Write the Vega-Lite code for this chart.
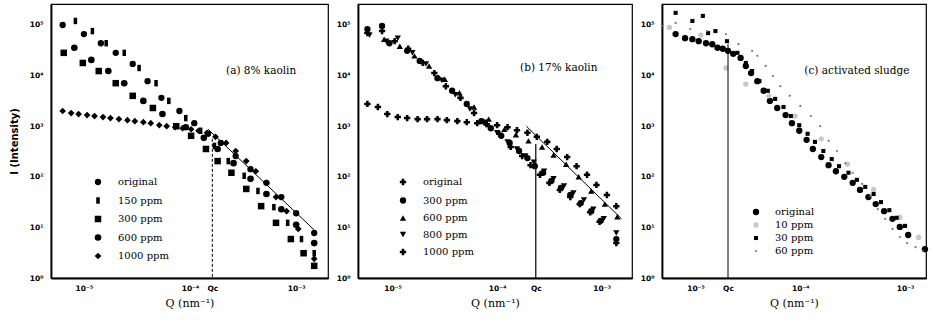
{
  "$schema": "https://vega.github.io/schema/vega-lite/v6.json",
  "background": "white",
  "padding": {"left": 8, "top": 3, "right": 0, "bottom": 0},
  "bounds": "flush",
  "spacing": 30,
  "config": {
    "view": {"stroke": "black", "strokeWidth": 1.2},
    "axis": {
      "grid": false, "ticks": false, "domainColor": "black", "domainWidth": 1.8,
      "labelFont": "DejaVu Sans", "labelFontWeight": "bold", "labelFontSize": 7.5, "labelColor": "black",
      "titleFont": "DejaVu Serif", "titleFontWeight": "normal", "titleFontSize": 11, "titleColor": "black",
      "labelOverlap": false, "labelFlush": false
    },
    "axisX": {"labelPadding": 6, "titlePadding": 6},
    "axisY": {"labelPadding": 8}
  },
  "datasets": {
    "kaolin8": [
      {"series":"original","logQ":-5.20,"logI":5.00},{"series":"original","logQ":-5.00,"logI":4.82},{"series":"original","logQ":-4.84,"logI":4.64},{"series":"original","logQ":-4.70,"logI":4.45},{"series":"original","logQ":-4.54,"logI":4.23},{"series":"original","logQ":-4.40,"logI":3.89},{"series":"original","logQ":-4.27,"logI":3.56},{"series":"original","logQ":-4.10,"logI":3.30},{"series":"original","logQ":-3.96,"logI":3.06},{"series":"original","logQ":-3.83,"logI":2.85},{"series":"original","logQ":-3.71,"logI":2.67},{"series":"original","logQ":-3.57,"logI":2.41},{"series":"original","logQ":-3.43,"logI":2.15},{"series":"original","logQ":-3.28,"logI":1.88},{"series":"original","logQ":-3.14,"logI":1.60},{"series":"original","logQ":-3.00,"logI":1.28},{"series":"original","logQ":-2.83,"logI":0.89},
      {"series":"150 ppm","logQ":-5.08,"logI":5.08},{"series":"150 ppm","logQ":-4.92,"logI":4.88},{"series":"150 ppm","logQ":-4.79,"logI":4.64},{"series":"150 ppm","logQ":-4.62,"logI":4.45},{"series":"150 ppm","logQ":-4.48,"logI":4.15},{"series":"150 ppm","logQ":-4.32,"logI":3.85},{"series":"150 ppm","logQ":-4.20,"logI":3.50},{"series":"150 ppm","logQ":-4.04,"logI":3.16},{"series":"150 ppm","logQ":-3.90,"logI":2.91},{"series":"150 ppm","logQ":-3.77,"logI":2.61},{"series":"150 ppm","logQ":-3.64,"logI":2.31},{"series":"150 ppm","logQ":-3.49,"logI":2.02},{"series":"150 ppm","logQ":-3.36,"logI":1.72},{"series":"150 ppm","logQ":-3.21,"logI":1.40},{"series":"150 ppm","logQ":-3.08,"logI":1.09},{"series":"150 ppm","logQ":-2.95,"logI":0.77},{"series":"150 ppm","logQ":-2.83,"logI":0.49},
      {"series":"300 ppm","logQ":-5.19,"logI":4.45},{"series":"300 ppm","logQ":-5.01,"logI":4.25},{"series":"300 ppm","logQ":-4.86,"logI":4.09},{"series":"300 ppm","logQ":-4.70,"logI":3.85},{"series":"300 ppm","logQ":-4.54,"logI":3.60},{"series":"300 ppm","logQ":-4.35,"logI":3.36},{"series":"300 ppm","logQ":-4.13,"logI":3.00},{"series":"300 ppm","logQ":-3.99,"logI":2.81},{"series":"300 ppm","logQ":-3.85,"logI":2.55},{"series":"300 ppm","logQ":-3.74,"logI":2.31},{"series":"300 ppm","logQ":-3.61,"logI":2.08},{"series":"300 ppm","logQ":-3.47,"logI":1.76},{"series":"300 ppm","logQ":-3.33,"logI":1.42},{"series":"300 ppm","logQ":-3.19,"logI":1.09},{"series":"300 ppm","logQ":-3.05,"logI":0.77},{"series":"300 ppm","logQ":-2.93,"logI":0.49},{"series":"300 ppm","logQ":-2.83,"logI":0.24},
      {"series":"600 ppm","logQ":-5.09,"logI":4.55},{"series":"600 ppm","logQ":-4.93,"logI":4.31},{"series":"600 ppm","logQ":-4.77,"logI":4.09},{"series":"600 ppm","logQ":-4.62,"logI":3.85},{"series":"600 ppm","logQ":-4.44,"logI":3.50},{"series":"600 ppm","logQ":-4.26,"logI":3.24},{"series":"600 ppm","logQ":-4.04,"logI":2.98},{"series":"600 ppm","logQ":-3.87,"logI":2.77},{"series":"600 ppm","logQ":-3.74,"logI":2.55},{"series":"600 ppm","logQ":-3.59,"logI":2.27},{"series":"600 ppm","logQ":-3.43,"logI":1.96},{"series":"600 ppm","logQ":-3.28,"logI":1.66},{"series":"600 ppm","logQ":-3.14,"logI":1.36},{"series":"600 ppm","logQ":-3.00,"logI":1.05},{"series":"600 ppm","logQ":-2.83,"logI":0.69},
      {"series":"1000 ppm","logQ":-5.20,"logI":3.30},{"series":"1000 ppm","logQ":-5.12,"logI":3.26},{"series":"1000 ppm","logQ":-5.05,"logI":3.24},{"series":"1000 ppm","logQ":-4.97,"logI":3.22},{"series":"1000 ppm","logQ":-4.90,"logI":3.20},{"series":"1000 ppm","logQ":-4.82,"logI":3.18},{"series":"1000 ppm","logQ":-4.75,"logI":3.16},{"series":"1000 ppm","logQ":-4.67,"logI":3.14},{"series":"1000 ppm","logQ":-4.59,"logI":3.12},{"series":"1000 ppm","logQ":-4.52,"logI":3.10},{"series":"1000 ppm","logQ":-4.44,"logI":3.08},{"series":"1000 ppm","logQ":-4.37,"logI":3.06},{"series":"1000 ppm","logQ":-4.29,"logI":3.02},{"series":"1000 ppm","logQ":-4.22,"logI":3.00},{"series":"1000 ppm","logQ":-4.14,"logI":2.98},{"series":"1000 ppm","logQ":-4.07,"logI":2.96},{"series":"1000 ppm","logQ":-3.99,"logI":2.94},{"series":"1000 ppm","logQ":-3.92,"logI":2.91},{"series":"1000 ppm","logQ":-3.84,"logI":2.87},{"series":"1000 ppm","logQ":-3.76,"logI":2.79},{"series":"1000 ppm","logQ":-3.66,"logI":2.67},{"series":"1000 ppm","logQ":-3.57,"logI":2.51},{"series":"1000 ppm","logQ":-3.47,"logI":2.31},{"series":"1000 ppm","logQ":-3.38,"logI":2.11},{"series":"1000 ppm","logQ":-3.28,"logI":1.88},{"series":"1000 ppm","logQ":-3.19,"logI":1.60},{"series":"1000 ppm","logQ":-3.09,"logI":1.32},{"series":"1000 ppm","logQ":-2.98,"logI":0.97},{"series":"1000 ppm","logQ":-2.83,"logI":0.38}
    ],
    "kaolin17": [
      {"series":"original","logQ":-5.24,"logI":3.44},{"series":"original","logQ":-5.14,"logI":3.38},{"series":"original","logQ":-5.05,"logI":3.24},{"series":"original","logQ":-4.95,"logI":3.18},{"series":"original","logQ":-4.86,"logI":3.16},{"series":"original","logQ":-4.76,"logI":3.14},{"series":"original","logQ":-4.67,"logI":3.14},{"series":"original","logQ":-4.57,"logI":3.14},{"series":"original","logQ":-4.48,"logI":3.12},{"series":"original","logQ":-4.38,"logI":3.10},{"series":"original","logQ":-4.29,"logI":3.08},{"series":"original","logQ":-4.19,"logI":3.06},{"series":"original","logQ":-4.10,"logI":3.04},{"series":"original","logQ":-4.00,"logI":3.02},{"series":"original","logQ":-3.90,"logI":2.98},{"series":"original","logQ":-3.81,"logI":2.92},{"series":"original","logQ":-3.71,"logI":2.87},{"series":"original","logQ":-3.62,"logI":2.79},{"series":"original","logQ":-3.52,"logI":2.69},{"series":"original","logQ":-3.43,"logI":2.55},{"series":"original","logQ":-3.33,"logI":2.39},{"series":"original","logQ":-3.24,"logI":2.21},{"series":"original","logQ":-3.14,"logI":2.04},{"series":"original","logQ":-3.05,"logI":1.84},{"series":"original","logQ":-2.95,"logI":1.64},{"series":"original","logQ":-2.86,"logI":1.42},
      {"series":"300 ppm","logQ":-5.24,"logI":4.92},{"series":"300 ppm","logQ":-5.10,"logI":4.98},{"series":"300 ppm","logQ":-5.03,"logI":4.64},{"series":"300 ppm","logQ":-4.86,"logI":4.49},{"series":"300 ppm","logQ":-4.74,"logI":4.29},{"series":"300 ppm","logQ":-4.57,"logI":3.95},{"series":"300 ppm","logQ":-4.43,"logI":3.70},{"series":"300 ppm","logQ":-4.29,"logI":3.44},{"series":"300 ppm","logQ":-4.15,"logI":3.10},{"series":"300 ppm","logQ":-4.06,"logI":2.96},{"series":"300 ppm","logQ":-3.96,"logI":2.81},{"series":"300 ppm","logQ":-3.88,"logI":2.67},{"series":"300 ppm","logQ":-3.79,"logI":2.51},{"series":"300 ppm","logQ":-3.71,"logI":2.37},{"series":"300 ppm","logQ":-3.64,"logI":2.21},{"series":"300 ppm","logQ":-3.56,"logI":2.08},{"series":"300 ppm","logQ":-3.48,"logI":1.92},{"series":"300 ppm","logQ":-3.39,"logI":1.78},{"series":"300 ppm","logQ":-3.30,"logI":1.64},{"series":"300 ppm","logQ":-3.20,"logI":1.48},{"series":"300 ppm","logQ":-3.10,"logI":1.32},{"series":"300 ppm","logQ":-3.01,"logI":1.13},{"series":"300 ppm","logQ":-2.86,"logI":0.77},
      {"series":"600 ppm","logQ":-5.24,"logI":4.88},{"series":"600 ppm","logQ":-5.08,"logI":4.72},{"series":"600 ppm","logQ":-4.93,"logI":4.58},{"series":"600 ppm","logQ":-4.79,"logI":4.39},{"series":"600 ppm","logQ":-4.65,"logI":4.19},{"series":"600 ppm","logQ":-4.50,"logI":3.93},{"series":"600 ppm","logQ":-4.36,"logI":3.66},{"series":"600 ppm","logQ":-4.22,"logI":3.38},{"series":"600 ppm","logQ":-4.08,"logI":3.14},{"series":"600 ppm","logQ":-3.93,"logI":2.94},{"series":"600 ppm","logQ":-3.82,"logI":2.83},{"series":"600 ppm","logQ":-3.70,"logI":2.71},{"series":"600 ppm","logQ":-3.57,"logI":2.59},{"series":"600 ppm","logQ":-3.46,"logI":2.43},{"series":"600 ppm","logQ":-3.34,"logI":2.25},{"series":"600 ppm","logQ":-3.22,"logI":2.00},{"series":"600 ppm","logQ":-3.10,"logI":1.72},{"series":"600 ppm","logQ":-2.97,"logI":1.46},{"series":"600 ppm","logQ":-2.85,"logI":1.21},
      {"series":"800 ppm","logQ":-5.22,"logI":4.80},{"series":"800 ppm","logQ":-5.06,"logI":4.68},{"series":"800 ppm","logQ":-4.95,"logI":4.74},{"series":"800 ppm","logQ":-4.81,"logI":4.45},{"series":"800 ppm","logQ":-4.68,"logI":4.23},{"series":"800 ppm","logQ":-4.53,"logI":3.91},{"series":"800 ppm","logQ":-4.40,"logI":3.62},{"series":"800 ppm","logQ":-4.26,"logI":3.34},{"series":"800 ppm","logQ":-4.12,"logI":3.08},{"series":"800 ppm","logQ":-4.00,"logI":2.87},{"series":"800 ppm","logQ":-3.90,"logI":2.69},{"series":"800 ppm","logQ":-3.81,"logI":2.55},{"series":"800 ppm","logQ":-3.73,"logI":2.41},{"series":"800 ppm","logQ":-3.65,"logI":2.29},{"series":"800 ppm","logQ":-3.55,"logI":2.11},{"series":"800 ppm","logQ":-3.46,"logI":1.96},{"series":"800 ppm","logQ":-3.36,"logI":1.82},{"series":"800 ppm","logQ":-3.27,"logI":1.68},{"series":"800 ppm","logQ":-3.17,"logI":1.54},{"series":"800 ppm","logQ":-3.08,"logI":1.36},{"series":"800 ppm","logQ":-2.98,"logI":1.17},{"series":"800 ppm","logQ":-2.86,"logI":0.89},
      {"series":"1000 ppm","logQ":-5.24,"logI":4.84},{"series":"1000 ppm","logQ":-5.10,"logI":4.88},{"series":"1000 ppm","logQ":-4.98,"logI":4.68},{"series":"1000 ppm","logQ":-4.85,"logI":4.53},{"series":"1000 ppm","logQ":-4.71,"logI":4.25},{"series":"1000 ppm","logQ":-4.60,"logI":4.05},{"series":"1000 ppm","logQ":-4.49,"logI":3.79},{"series":"1000 ppm","logQ":-4.35,"logI":3.56},{"series":"1000 ppm","logQ":-4.22,"logI":3.26},{"series":"1000 ppm","logQ":-4.10,"logI":3.04},{"series":"1000 ppm","logQ":-3.98,"logI":2.85},{"series":"1000 ppm","logQ":-3.87,"logI":2.59},{"series":"1000 ppm","logQ":-3.76,"logI":2.41},{"series":"1000 ppm","logQ":-3.68,"logI":2.23},{"series":"1000 ppm","logQ":-3.59,"logI":2.04},{"series":"1000 ppm","logQ":-3.50,"logI":1.88},{"series":"1000 ppm","logQ":-3.40,"logI":1.74},{"series":"1000 ppm","logQ":-3.30,"logI":1.60},{"series":"1000 ppm","logQ":-3.21,"logI":1.46},{"series":"1000 ppm","logQ":-3.11,"logI":1.30},{"series":"1000 ppm","logQ":-3.02,"logI":1.11},{"series":"1000 ppm","logQ":-2.86,"logI":0.69}
    ],
    "sludge": [
      {"series":"original","logQ":-5.19,"logI":4.82},{"series":"original","logQ":-5.10,"logI":4.74},{"series":"original","logQ":-5.03,"logI":4.72},{"series":"original","logQ":-4.97,"logI":4.68},{"series":"original","logQ":-4.90,"logI":4.64},{"series":"original","logQ":-4.84,"logI":4.62},{"series":"original","logQ":-4.79,"logI":4.55},{"series":"original","logQ":-4.74,"logI":4.53},{"series":"original","logQ":-4.69,"logI":4.49},{"series":"original","logQ":-4.64,"logI":4.43},{"series":"original","logQ":-4.57,"logI":4.35},{"series":"original","logQ":-4.52,"logI":4.19},{"series":"original","logQ":-4.47,"logI":4.05},{"series":"original","logQ":-4.41,"logI":3.89},{"series":"original","logQ":-4.35,"logI":3.70},{"series":"original","logQ":-4.29,"logI":3.50},{"series":"original","logQ":-4.22,"logI":3.36},{"series":"original","logQ":-4.14,"logI":3.22},{"series":"original","logQ":-4.08,"logI":3.06},{"series":"original","logQ":-4.01,"logI":2.91},{"series":"original","logQ":-3.94,"logI":2.73},{"series":"original","logQ":-3.88,"logI":2.55},{"series":"original","logQ":-3.80,"logI":2.39},{"series":"original","logQ":-3.73,"logI":2.23},{"series":"original","logQ":-3.66,"logI":2.11},{"series":"original","logQ":-3.58,"logI":2.00},{"series":"original","logQ":-3.50,"logI":1.88},{"series":"original","logQ":-3.43,"logI":1.74},{"series":"original","logQ":-3.35,"logI":1.60},{"series":"original","logQ":-3.28,"logI":1.46},{"series":"original","logQ":-3.20,"logI":1.32},{"series":"original","logQ":-3.12,"logI":1.17},{"series":"original","logQ":-3.05,"logI":1.01},{"series":"original","logQ":-2.97,"logI":0.85},{"series":"original","logQ":-2.81,"logI":0.57},
      {"series":"10 ppm","logQ":-5.25,"logI":4.95},{"series":"10 ppm","logQ":-4.95,"logI":4.80},{"series":"10 ppm","logQ":-4.71,"logI":4.15},{"series":"10 ppm","logQ":-4.52,"logI":3.83},{"series":"10 ppm","logQ":-4.30,"logI":3.60},{"series":"10 ppm","logQ":-4.05,"logI":3.20},{"series":"10 ppm","logQ":-3.80,"logI":2.75},{"series":"10 ppm","logQ":-3.55,"logI":2.25},{"series":"10 ppm","logQ":-3.30,"logI":1.75},{"series":"10 ppm","logQ":-3.05,"logI":1.20},{"series":"10 ppm","logQ":-2.87,"logI":0.80},
      {"series":"30 ppm","logQ":-5.19,"logI":5.24},{"series":"30 ppm","logQ":-5.03,"logI":5.08},{"series":"30 ppm","logQ":-4.93,"logI":5.18},{"series":"30 ppm","logQ":-4.88,"logI":4.84},{"series":"30 ppm","logQ":-4.81,"logI":4.88},{"series":"30 ppm","logQ":-4.70,"logI":4.68},{"series":"30 ppm","logQ":-4.60,"logI":4.45},{"series":"30 ppm","logQ":-4.52,"logI":4.25},{"series":"30 ppm","logQ":-4.46,"logI":4.09},{"series":"30 ppm","logQ":-4.39,"logI":3.89},{"series":"30 ppm","logQ":-4.31,"logI":3.70},{"series":"30 ppm","logQ":-4.24,"logI":3.54},{"series":"30 ppm","logQ":-4.16,"logI":3.38},{"series":"30 ppm","logQ":-4.09,"logI":3.20},{"series":"30 ppm","logQ":-4.01,"logI":3.02},{"series":"30 ppm","logQ":-3.93,"logI":2.85},{"series":"30 ppm","logQ":-3.86,"logI":2.69},{"series":"30 ppm","logQ":-3.78,"logI":2.51},{"series":"30 ppm","logQ":-3.70,"logI":2.35},{"series":"30 ppm","logQ":-3.63,"logI":2.21},{"series":"30 ppm","logQ":-3.54,"logI":2.08},{"series":"30 ppm","logQ":-3.46,"logI":1.94},{"series":"30 ppm","logQ":-3.38,"logI":1.80},{"series":"30 ppm","logQ":-3.30,"logI":1.66},{"series":"30 ppm","logQ":-3.23,"logI":1.50},{"series":"30 ppm","logQ":-3.15,"logI":1.34},{"series":"30 ppm","logQ":-3.08,"logI":1.19},{"series":"30 ppm","logQ":-3.00,"logI":1.03},
      {"series":"60 ppm","logQ":-5.31,"logI":4.98},{"series":"60 ppm","logQ":-5.19,"logI":5.04},{"series":"60 ppm","logQ":-5.05,"logI":4.92},{"series":"60 ppm","logQ":-4.89,"logI":4.88},{"series":"60 ppm","logQ":-4.71,"logI":4.82},{"series":"60 ppm","logQ":-4.59,"logI":4.62},{"series":"60 ppm","logQ":-4.46,"logI":4.49},{"series":"60 ppm","logQ":-4.41,"logI":4.39},{"series":"60 ppm","logQ":-4.33,"logI":4.19},{"series":"60 ppm","logQ":-4.26,"logI":3.99},{"series":"60 ppm","logQ":-4.19,"logI":3.79},{"series":"60 ppm","logQ":-4.10,"logI":3.60},{"series":"60 ppm","logQ":-4.00,"logI":3.40},{"series":"60 ppm","logQ":-3.90,"logI":3.20},{"series":"60 ppm","logQ":-3.81,"logI":3.00},{"series":"60 ppm","logQ":-3.73,"logI":2.71},{"series":"60 ppm","logQ":-3.65,"logI":2.51},{"series":"60 ppm","logQ":-3.57,"logI":2.27},{"series":"60 ppm","logQ":-3.50,"logI":2.08},{"series":"60 ppm","logQ":-3.41,"logI":1.86},{"series":"60 ppm","logQ":-3.33,"logI":1.62},{"series":"60 ppm","logQ":-3.26,"logI":1.36},{"series":"60 ppm","logQ":-3.19,"logI":1.17},{"series":"60 ppm","logQ":-3.12,"logI":0.97},{"series":"60 ppm","logQ":-3.05,"logI":0.81},{"series":"60 ppm","logQ":-2.98,"logI":0.69},{"series":"60 ppm","logQ":-2.90,"logI":0.61},{"series":"60 ppm","logQ":-2.83,"logI":0.53}
    ],
    "fits": [
      {"panel":"a","logQ":-3.83,"logI":2.94},{"panel":"a","logQ":-2.83,"logI":0.95},
      {"panel":"b","logQ":-3.72,"logI":3.00},{"panel":"b","logQ":-2.81,"logI":1.17}
    ],
    "qc": [
      {"panel":"a","logQ":-3.79,"top":2.75,"bottom":0},
      {"panel":"b","logQ":-3.63,"top":2.65,"bottom":0},
      {"panel":"c","logQ":-4.69,"top":4.62,"bottom":0}
    ],
    "notes": [
      {"panel":"a","logQ":-3.33,"logI":4.09,"text":"(a) 8% kaolin"},
      {"panel":"b","logQ":-3.41,"logI":4.15,"text":"(b) 17% kaolin"},
      {"panel":"c","logQ":-3.46,"logI":4.09,"text":"(c) activated sludge"}
    ]
  },
  "hconcat": [
    {
      "width": 277, "height": 274,
      "layer": [
        {
          "data": {"name": "kaolin8"},
          "mark": {"type": "point", "filled": true, "opacity": 1, "color": "black"},
          "encoding": {
            "x": {"field": "logQ", "type": "quantitative", "scale": {"domain": [-5.31, -2.70], "nice": false, "zero": false},
                  "axis": {"values": [-5, -4, -3, -3.79], "labelExpr": "datum.value == -5 ? '10⁻⁵' : datum.value == -4 ? '10⁻⁴' : datum.value == -3 ? '10⁻³' : 'Qc'", "title": "Q (nm⁻¹)"}},
            "y": {"field": "logI", "type": "quantitative", "scale": {"domain": [0, 5.415], "nice": false, "zero": false},
                  "axis": {"values": [0, 1, 2, 3, 4, 5], "labelExpr": "['10⁰','10¹','10²','10³','10⁴','10⁵'][datum.value]", "title": "I (Intensity)", "titleFont": "DejaVu Sans", "titleFontWeight": "bold", "titleFontSize": 10, "titlePadding": 10}},
            "shape": {"field": "series", "type": "nominal",
                      "scale": {"domain": ["original", "150 ppm", "300 ppm", "600 ppm", "1000 ppm"], "range": ["circle", "M-0.55,-1L0.55,-1L0.55,1L-0.55,1Z", "square", "circle", "diamond"]},
                      "legend": {"title": null, "orient": "none", "legendX": 42, "legendY": 173, "padding": 0, "rowPadding": 4.5, "labelOffset": 15, "labelFont": "DejaVu Serif", "labelFontSize": 10, "labelColor": "black"}},
            "size": {"field": "series", "type": "nominal",
                     "scale": {"domain": ["original", "150 ppm", "300 ppm", "600 ppm", "1000 ppm"], "range": [40, 45, 22, 32, 45]},
                     "legend": {"title": null, "orient": "none", "legendX": 42, "legendY": 173, "padding": 0, "rowPadding": 4.5, "labelOffset": 15, "labelFont": "DejaVu Serif", "labelFontSize": 10, "labelColor": "black"}}
          }
        },
        {
          "data": {"name": "fits"},
          "transform": [{"filter": "datum.panel === 'a'"}],
          "mark": {"type": "line", "color": "black", "strokeWidth": 1},
          "encoding": {
            "x": {"field": "logQ", "type": "quantitative", "scale": {"domain": [-5.31, -2.70], "nice": false, "zero": false}},
            "y": {"field": "logI", "type": "quantitative", "scale": {"domain": [0, 5.415], "nice": false, "zero": false}}
          }
        },
        {
          "data": {"name": "qc"},
          "transform": [{"filter": "datum.panel === 'a'"}],
          "mark": {"type": "rule", "color": "black", "strokeWidth": 1, "strokeDash": [3, 2]},
          "encoding": {
            "x": {"field": "logQ", "type": "quantitative", "scale": {"domain": [-5.31, -2.70], "nice": false, "zero": false}},
            "y": {"field": "top", "type": "quantitative", "scale": {"domain": [0, 5.415], "nice": false, "zero": false}},
            "y2": {"field": "bottom"}
          }
        },
        {
          "data": {"name": "notes"},
          "transform": [{"filter": "datum.panel === 'a'"}],
          "mark": {"type": "text", "font": "DejaVu Serif", "fontSize": 10.5, "color": "black", "align": "center", "baseline": "middle"},
          "encoding": {
            "x": {"field": "logQ", "type": "quantitative", "scale": {"domain": [-5.31, -2.70], "nice": false, "zero": false}},
            "y": {"field": "logI", "type": "quantitative", "scale": {"domain": [0, 5.415], "nice": false, "zero": false}},
            "text": {"field": "text"}
          }
        }
      ]
    },
    {
      "width": 274, "height": 274,
      "layer": [
        {
          "data": {"name": "kaolin17"},
          "mark": {"type": "point", "filled": true, "opacity": 1, "color": "black"},
          "encoding": {
            "x": {"field": "logQ", "type": "quantitative", "scale": {"domain": [-5.33, -2.71], "nice": false, "zero": false},
                  "axis": {"values": [-5, -4, -3, -3.63], "labelExpr": "datum.value == -5 ? '10⁻⁵' : datum.value == -4 ? '10⁻⁴' : datum.value == -3 ? '10⁻³' : 'Qc'", "title": "Q (nm⁻¹)"}},
            "y": {"field": "logI", "type": "quantitative", "scale": {"domain": [0, 5.415], "nice": false, "zero": false},
                  "axis": {"values": [0, 1, 2, 3, 4, 5], "labelExpr": "['10⁰','10¹','10²','10³','10⁴','10⁵'][datum.value]", "title": null}},
            "shape": {"field": "series", "type": "nominal",
                      "scale": {"domain": ["original", "300 ppm", "600 ppm", "800 ppm", "1000 ppm"], "range": ["cross", "circle", "triangle-up", "triangle-down", "cross"]},
                      "legend": {"title": null, "orient": "none", "legendX": 40, "legendY": 173, "padding": 0, "rowPadding": 4.5, "labelOffset": 15, "labelFont": "DejaVu Serif", "labelFontSize": 10, "labelColor": "black"}},
            "size": {"field": "series", "type": "nominal",
                     "scale": {"domain": ["original", "300 ppm", "600 ppm", "800 ppm", "1000 ppm"], "range": [40, 40, 38, 38, 50]},
                     "legend": {"title": null, "orient": "none", "legendX": 40, "legendY": 173, "padding": 0, "rowPadding": 4.5, "labelOffset": 15, "labelFont": "DejaVu Serif", "labelFontSize": 10, "labelColor": "black"}}
          }
        },
        {
          "data": {"name": "fits"},
          "transform": [{"filter": "datum.panel === 'b'"}],
          "mark": {"type": "line", "color": "black", "strokeWidth": 1},
          "encoding": {
            "x": {"field": "logQ", "type": "quantitative", "scale": {"domain": [-5.33, -2.71], "nice": false, "zero": false}},
            "y": {"field": "logI", "type": "quantitative", "scale": {"domain": [0, 5.415], "nice": false, "zero": false}}
          }
        },
        {
          "data": {"name": "qc"},
          "transform": [{"filter": "datum.panel === 'b'"}],
          "mark": {"type": "rule", "color": "black", "strokeWidth": 1.2},
          "encoding": {
            "x": {"field": "logQ", "type": "quantitative", "scale": {"domain": [-5.33, -2.71], "nice": false, "zero": false}},
            "y": {"field": "top", "type": "quantitative", "scale": {"domain": [0, 5.415], "nice": false, "zero": false}},
            "y2": {"field": "bottom"}
          }
        },
        {
          "data": {"name": "notes"},
          "transform": [{"filter": "datum.panel === 'b'"}],
          "mark": {"type": "text", "font": "DejaVu Serif", "fontSize": 10.5, "color": "black", "align": "center", "baseline": "middle"},
          "encoding": {
            "x": {"field": "logQ", "type": "quantitative", "scale": {"domain": [-5.33, -2.71], "nice": false, "zero": false}},
            "y": {"field": "logI", "type": "quantitative", "scale": {"domain": [0, 5.415], "nice": false, "zero": false}},
            "text": {"field": "text"}
          }
        }
      ]
    },
    {
      "width": 264, "height": 274,
      "layer": [
        {
          "data": {"name": "sludge"},
          "mark": {"type": "point", "filled": true, "opacity": 1},
          "encoding": {
            "x": {"field": "logQ", "type": "quantitative", "scale": {"domain": [-5.32, -2.80], "nice": false, "zero": false},
                  "axis": {"values": [-5, -4, -3, -4.69], "labelExpr": "datum.value == -5 ? '10⁻⁵' : datum.value == -4 ? '10⁻⁴' : datum.value == -3 ? '10⁻³' : 'Qc'", "title": "Q (nm⁻¹)"}},
            "y": {"field": "logI", "type": "quantitative", "scale": {"domain": [0, 5.415], "nice": false, "zero": false},
                  "axis": {"values": [0, 1, 2, 3, 4, 5], "labelExpr": "['10⁰','10¹','10²','10³','10⁴','10⁵'][datum.value]", "title": null}},
            "shape": {"field": "series", "type": "nominal",
                      "scale": {"domain": ["original", "10 ppm", "30 ppm", "60 ppm"], "range": ["circle", "circle", "square", "circle"]},
                      "legend": {"title": null, "orient": "none", "legendX": 89, "legendY": 203, "padding": 0, "rowPadding": 3, "labelOffset": 14, "labelFont": "DejaVu Serif", "labelFontSize": 10, "labelColor": "black"}},
            "size": {"field": "series", "type": "nominal",
                     "scale": {"domain": ["original", "10 ppm", "30 ppm", "60 ppm"], "range": [40, 5, 40, 6]},
                     "legend": {"title": null, "orient": "none", "legendX": 89, "legendY": 203, "padding": 0, "rowPadding": 3, "labelOffset": 14, "labelFont": "DejaVu Serif", "labelFontSize": 10, "labelColor": "black"}},
            "color": {"field": "series", "type": "nominal",
                      "scale": {"domain": ["original", "10 ppm", "30 ppm", "60 ppm"], "range": ["black", "#c8c8c8", "black", "#777777"]},
                      "legend": {"title": null, "orient": "none", "legendX": 89, "legendY": 203, "padding": 0, "rowPadding": 3, "labelOffset": 14, "labelFont": "DejaVu Serif", "labelFontSize": 10, "labelColor": "black"}}
          }
        },
        {
          "data": {"name": "qc"},
          "transform": [{"filter": "datum.panel === 'c'"}],
          "mark": {"type": "rule", "color": "black", "strokeWidth": 1},
          "encoding": {
            "x": {"field": "logQ", "type": "quantitative", "scale": {"domain": [-5.32, -2.80], "nice": false, "zero": false}},
            "y": {"field": "top", "type": "quantitative", "scale": {"domain": [0, 5.415], "nice": false, "zero": false}},
            "y2": {"field": "bottom"}
          }
        },
        {
          "data": {"name": "notes"},
          "transform": [{"filter": "datum.panel === 'c'"}],
          "mark": {"type": "text", "font": "DejaVu Serif", "fontSize": 10.5, "color": "black", "align": "center", "baseline": "middle"},
          "encoding": {
            "x": {"field": "logQ", "type": "quantitative", "scale": {"domain": [-5.32, -2.80], "nice": false, "zero": false}},
            "y": {"field": "logI", "type": "quantitative", "scale": {"domain": [0, 5.415], "nice": false, "zero": false}},
            "text": {"field": "text"}
          }
        }
      ]
    }
  ],
  "resolve": {
    "scale": {"x": "independent", "y": "independent", "shape": "independent", "size": "independent", "color": "independent"},
    "legend": {"shape": "independent", "size": "independent", "color": "independent"}
  }
}
